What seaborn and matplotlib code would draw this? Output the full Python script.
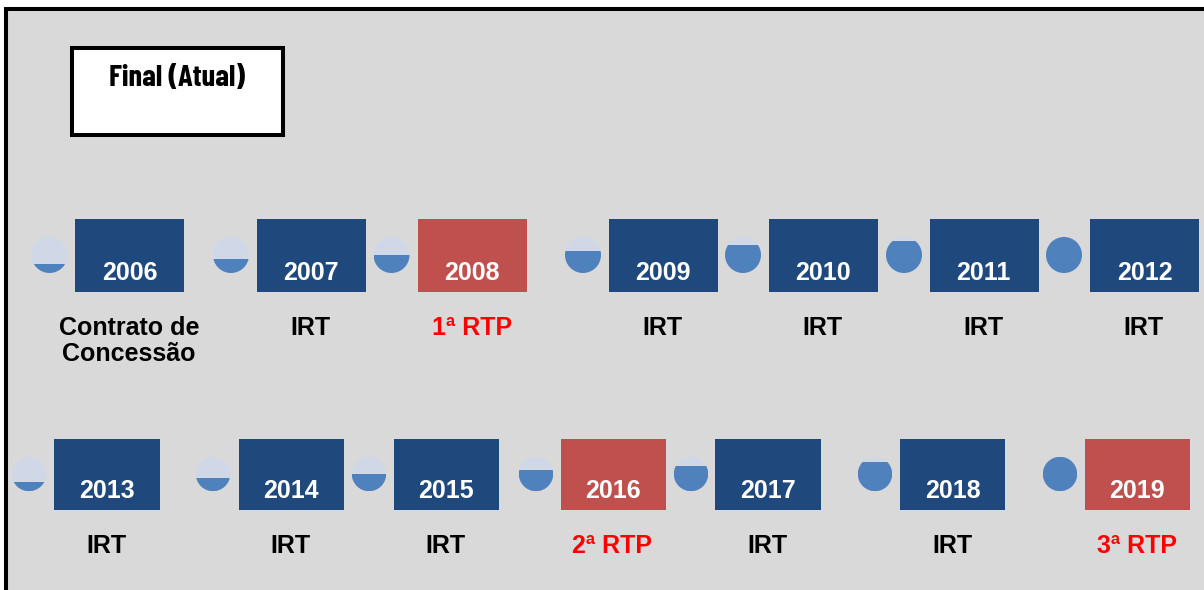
"""Linha do tempo tarifaria: reajustes (IRT) e revisoes (RTP) de 2006 a 2019."""
import matplotlib
matplotlib.use("Agg")
import matplotlib.pyplot as plt
from matplotlib.patches import Circle, Rectangle
import pandas as pd
import seaborn as sns

sns.set_theme(style="white")
plt.rcParams["font.family"] = ["Liberation Sans", "DejaVu Sans"]

# data
years_top = ["2006", "2007", "2008", "2009", "2010", "2011", "2012"]
years_bottom = ["2013", "2014", "2015", "2016", "2017", "2018", "2019"]
events_top = ["Contrato de\nConcessão", "IRT", "1ª RTP", "IRT", "IRT", "IRT", "IRT"]
events_bottom = ["IRT", "IRT", "IRT", "2ª RTP", "IRT", "IRT", "3ª RTP"]
level_top = [0.26, 0.38, 0.50, 0.62, 0.78, 0.88, 1.0]
level_bottom = [0.26, 0.37, 0.50, 0.61, 0.74, 0.86, 1.0]
title = "Final (Atual)"

# layout, in image pixels
W, H = 1204, 590
box_x_top = [129.5, 311.5, 472.5, 663.5, 823.5, 984.5, 1144.5]
box_x_bottom = [107, 291.5, 446.5, 613.5, 768, 952.5, 1137.5]
year_x_top = [129.5, 311, 472, 663, 823, 983.5, 1144.5]
year_x_bottom = [106.5, 291, 446, 613, 768, 952.5, 1137]
event_x_top = [129, 310, 472, 662, 822, 983, 1143]
event_x_bottom = [106, 290, 445, 612, 767, 952, 1137]
circle_x_top = [49.5, 231, 391.5, 583, 743, 904, 1064]
circle_x_bottom = [29, 213, 369, 536, 691, 875, 1060]
BLUE, RED = "#1f497d", "#c0504d"
PALE, FILL = "#d0d8e8", "#4f81bd"


def draw_boxes(fig, years, events, xs, y0, y1, box_w):
    """One row of year boxes on its own axes, same x scale as the canvas."""
    ax = fig.add_axes([0, 1 - y1 / H, 1, (y1 - y0) / H], zorder=1)
    df = pd.DataFrame({"x": xs, "h": [1] * len(xs), "year": years,
                       "kind": ["rtp" if "RTP" in e else "irt" for e in events]})
    gap = min(b - a for a, b in zip(xs, xs[1:]))
    sns.barplot(data=df, x="x", y="h", hue="kind", native_scale=True, dodge=False,
                palette={"irt": BLUE, "rtp": RED}, width=box_w / gap,
                legend=False, ax=ax, linewidth=0, saturation=1)
    ax.set_xlim(0, W)
    ax.set_ylim(0, 1)
    ax.set_axis_off()


def draw_row(ax, years, events, levels, year_xs, event_xs, circle_xs, cy, r, year_y, event_y):
    for year, event, level, yx, ex, cx in zip(years, events, levels, year_xs, event_xs, circle_xs):
        ax.add_patch(Circle((cx, cy), r, fc=PALE, ec="none"))
        circle = Circle((cx, cy), r, transform=ax.transData)
        top = cy + r - 2 * r * level
        fill = Rectangle((cx - r, top), 2 * r, 2 * r * level, fc=FILL, ec="none")
        ax.add_patch(fill)
        fill.set_clip_path(circle)
        ax.text(yx, year_y, year, color="white", fontsize=18, fontweight="bold",
                ha="center", va="center")
        color = "#ff0000" if "RTP" in event else "black"
        ax.text(ex, event_y, event, color=color, fontsize=18, fontweight="bold",
                ha="center", va="top", linespacing=1.1)


def main():
    fig = plt.figure(figsize=(W / 100, H / 100), dpi=100, facecolor="white")

    # grey panel with heavy frame, right and bottom edges run off the image
    fig.add_artist(Rectangle((6 / W, 1 - 610 / H), 1220 / W, (610 - 8.5) / H,
                             transform=fig.transFigure, fc="#d9d9d9", ec="black",
                             lw=2.9, zorder=-1))

    draw_boxes(fig, years_top, events_top, box_x_top, 219, 292, 109)
    draw_boxes(fig, years_bottom, events_bottom, box_x_bottom, 439, 510, 105.5)

    canvas = fig.add_axes([0, 0, 1, 1], zorder=3)
    canvas.set_xlim(0, W)
    canvas.set_ylim(H, 0)
    canvas.set_axis_off()
    canvas.patch.set_alpha(0)

    canvas.add_patch(Rectangle((72, 48), 211, 87, fc="white", ec="black", lw=2.9))
    canvas.text(177, 78.5, title, color="black", fontsize=22, fontweight="bold",
                ha="center", va="center",
                family=["Barlow Condensed", "Liberation Sans"])

    draw_row(canvas, years_top, events_top, level_top, year_x_top, event_x_top, circle_x_top,
             255, 18, 273, 316)
    draw_row(canvas, years_bottom, events_bottom, level_bottom, year_x_bottom, event_x_bottom,
             circle_x_bottom, 474, 17.2, 491, 534)

    fig.savefig("out.png", dpi=100)
    plt.close(fig)


if __name__ == "__main__":
    main()
